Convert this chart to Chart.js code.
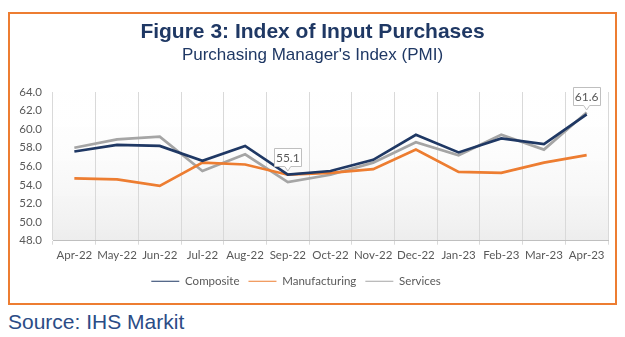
<!DOCTYPE html>
<html>
<head>
<meta charset="utf-8">
<script src="https://cdn.jsdelivr.net/npm/chart.js@4/dist/chart.umd.min.js"></script>
<style>
    body { margin: 0; background: #fff; width: 625px; height: 337px; overflow: hidden; position: relative; font-family: "Liberation Sans", Arial, sans-serif; }
    #frame { position: absolute; left: 8px; top: 12px; width: 605px; height: 289px; border: 2px solid #ED7D31; }
    #title { position: absolute; left: 0; width: 625px; top: 20px; line-height: 21px; text-align: center; font-weight: bold; font-size: 21px; color: #1F3864; }
    #subtitle { position: absolute; left: 0; width: 625px; top: 46px; line-height: 17px; text-align: center; font-size: 17px; color: #1F3864; }
    #wrap { position: absolute; left: 0; top: 0; }
    #source { position: absolute; left: 8px; top: 310px; font-size: 21px; color: #2B4C86; }
</style>
</head>
<body>
<div id="frame"></div>
<div id="wrap"><canvas id="pmiChart" width="625" height="302"></canvas></div>
<div id="title">Figure 3: Index of Input Purchases</div>
<div id="subtitle">Purchasing Manager's Index (PMI)</div>
<div id="source">Source: IHS Markit</div>
<script>
const months = ['Apr-22', 'May-22', 'Jun-22', 'Jul-22', 'Aug-22', 'Sep-22', 'Oct-22',
                'Nov-22', 'Dec-22', 'Jan-23', 'Feb-23', 'Mar-23', 'Apr-23'];
const composite = [57.6, 58.3, 58.2, 56.6, 58.2, 55.1, 55.5, 56.7, 59.4, 57.5, 59.0, 58.4, 61.6];
const manufacturing = [54.7, 54.6, 53.9, 56.4, 56.2, 55.1, 55.3, 55.7, 57.8, 55.4, 55.3, 56.4, 57.2];
const services = [58.0, 58.9, 59.2, 55.5, 57.3, 54.3, 55.1, 56.4, 58.6, 57.2, 59.4, 57.8, 61.8];
const yTicks = [48, 50, 52, 54, 56, 58, 60, 62, 64];
// which composite points get a callout label
const labelled = [5, 12];

// light grey fade at the bottom of the plot area
const plotShade = {
    id: 'plotShade',
    beforeDraw(chart) {
        const {ctx, chartArea: a} = chart;
        const g = ctx.createLinearGradient(0, a.top, 0, a.bottom);
        g.addColorStop(0, 'rgba(255,255,255,0)');
        g.addColorStop(1, 'rgba(225,225,225,0.6)');
        ctx.save();
        ctx.fillStyle = g;
        ctx.fillRect(a.left, a.top, a.right - a.left, a.bottom - a.top);
        ctx.restore();
    }
};

// legend in the original sits a little left of centre
const legendShift = {
    id: 'legendShift',
    afterLayout(chart) {
        chart.legend.left -= 14;
        chart.legend.right -= 14;
    }
};

const callouts = {
    id: 'callouts',
    afterDatasetsDraw(chart) {
        const ctx = chart.ctx;
        const meta = chart.getDatasetMeta(0);
        ctx.save();
        ctx.font = '12px Lato';
        labelled.forEach(i => {
            const p = meta.data[i];
            const text = composite[i].toFixed(1);
            const w = 28, h = 19;
            const x = Math.round(p.x - w / 2), y = Math.round(p.y - 8 - h);
            ctx.fillStyle = '#fff';
            ctx.strokeStyle = '#bfbfbf';
            ctx.lineWidth = 1;
            ctx.beginPath();
            ctx.moveTo(x + 0.5, y + 0.5);
            ctx.lineTo(x + w - 0.5, y + 0.5);
            ctx.lineTo(x + w - 0.5, y + h - 0.5);
            ctx.lineTo(p.x + 3, y + h - 0.5);
            ctx.lineTo(p.x, y + h + 4);
            ctx.lineTo(p.x - 3, y + h - 0.5);
            ctx.lineTo(x + 0.5, y + h - 0.5);
            ctx.closePath();
            ctx.fill();
            ctx.stroke();
            ctx.fillStyle = '#595959';
            ctx.textAlign = 'center';
            ctx.textBaseline = 'middle';
            ctx.fillText(text, p.x, y + h / 2 + 1);
        });
        ctx.restore();
    }
};

const ctx = document.getElementById('pmiChart').getContext('2d');
new Chart(ctx, {
    type: 'line',
    data: {
        labels: months,
        datasets: [
            { label: 'Composite', data: composite, borderColor: '#1F3864', backgroundColor: '#1F3864' },
            { label: 'Manufacturing', data: manufacturing, borderColor: '#ED7D31', backgroundColor: '#ED7D31' },
            { label: 'Services', data: services, borderColor: '#A5A5A5', backgroundColor: '#A5A5A5' }
        ]
    },
    options: {
        responsive: false,
        animation: false,
        layout: { padding: { left: 12, right: 17, top: 92, bottom: 5 } },
        elements: {
            line: { borderWidth: 2.7, tension: 0 },
            point: { radius: 0 }
        },
        plugins: {
            legend: {
                position: 'bottom',
                labels: {
                    usePointStyle: true,
                    pointStyle: 'line',
                    pointStyleWidth: 28,
                    color: '#595959',
                    font: { family: 'Lato', size: 11.5 },
                    padding: 9
                }
            },
            tooltip: { enabled: false }
        },
        scales: {
            x: {
                offset: true,
                grid: { offset: true, color: '#d9d9d9', tickLength: 4 },
                border: { color: '#bfbfbf' },
                ticks: {
                    color: '#595959',
                    font: { family: 'Lato', size: 11.5 },
                    padding: 4,
                    maxRotation: 0,
                    autoSkip: false
                }
            },
            y: {
                min: 48,
                max: 64,
                afterBuildTicks: scale => { scale.ticks = yTicks.map(v => ({value: v})); },
                afterFit: scale => { scale.width = 41; },
                grid: { display: false, drawTicks: false },
                border: { display: false },
                ticks: {
                    color: '#595959',
                    font: { family: 'Lato', size: 11.5 },
                    padding: 11,
                    callback: v => v.toFixed(1)
                }
            }
        }
    },
    plugins: [plotShade, legendShift, callouts]
});
</script>
</body>
</html>
